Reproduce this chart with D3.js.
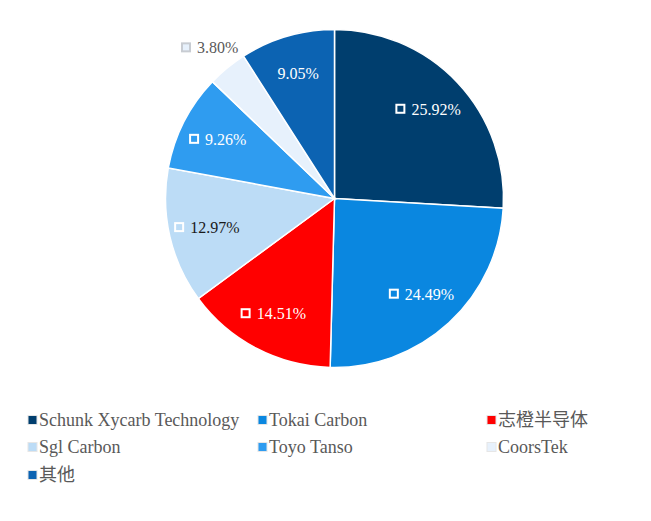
<!DOCTYPE html>
<html><head><meta charset="utf-8">
<script src="https://cdn.jsdelivr.net/npm/d3@7"></script>
<style>body{margin:0;background:#fff;}svg{display:block;}</style>
</head><body>
<svg id="c" width="651" height="521"></svg>
<script>
const categories = ["Schunk Xycarb Technology","Tokai Carbon","志橙半导体","Sgl Carbon","Toyo Tanso","CoorsTek","其他"];
const values = [25.92, 24.49, 14.51, 12.97, 9.26, 3.80, 9.05];
const colors = ["#003e6e","#0a87e0","#ff0000","#bcdcf6","#2f9cf0","#e7f1fc","#0c63b2"];
const labelColors = ["#ffffff","#ffffff","#ffffff","#1a1a1a","#ffffff","#595959","#ffffff"];
const showIcon = [true,true,true,true,true,true,false];
const outside = [false,false,false,false,false,true,false];
const FONT = '"Liberation Serif", "Noto Sans CJK SC"';

const svg = d3.select("#c");
const cx = 334.5, cy = 198.5, R = 169;
const g = svg.append("g").attr("transform", `translate(${cx},${cy})`);
const pie = d3.pie().sort(null).value(d => d.v);
const data = pie(values.map((v,i)=>({v,i})));
const arc = d3.arc().innerRadius(0).outerRadius(R);
g.selectAll("path").data(data).join("path")
  .attr("d", arc).attr("fill", d => colors[d.data.i])
  .attr("stroke", "#fff").attr("stroke-width", 1.5);

const inArc = d3.arc().innerRadius(130*2).outerRadius(0);
const outArc = d3.arc().innerRadius(195*2).outerRadius(0);
const fmt = v => v.toFixed(2) + "%";
data.forEach(d => {
  const i = d.data.i;
  const [x, y] = (outside[i] ? outArc : inArc).centroid(d);
  const lg = g.append("g").attr("transform", `translate(${x},${y})`);
  const t = lg.append("text").attr("text-anchor","middle").attr("dominant-baseline","central")
    .style("font-family", FONT).style("font-size","16px")
    .attr("fill", labelColors[i]).text(fmt(values[i]));
  if (showIcon[i]) {
    const w = t.node().getComputedTextLength();
    t.attr("x", 7);
    lg.append("rect").attr("x", 7 - w/2 - 15).attr("y", -4.5).attr("width", 8).attr("height", 8)
      .attr("fill", colors[i]).attr("stroke", outside[i] ? "#c8ccd2" : "#ffffff").attr("stroke-width", 2);
  }
});

// legend
const legX = [28, 258, 487], legY = [420, 447, 475];
categories.forEach((c, i) => {
  const col = i % 3, row = Math.floor(i / 3);
  const lg = svg.append("g").attr("transform", `translate(${legX[col]},${legY[row]})`);
  lg.append("rect").attr("x", 0).attr("y", -4.5).attr("width", 9).attr("height", 9)
    .attr("fill", colors[i]).attr("stroke", "#e6e6e6").attr("stroke-width", 1);
  lg.append("text").attr("x", 11).attr("y", 0).attr("dominant-baseline","central")
    .style("font-family", FONT).style("font-size","18px")
    .attr("fill","#595959").text(c);
});
</script>
</body></html>
